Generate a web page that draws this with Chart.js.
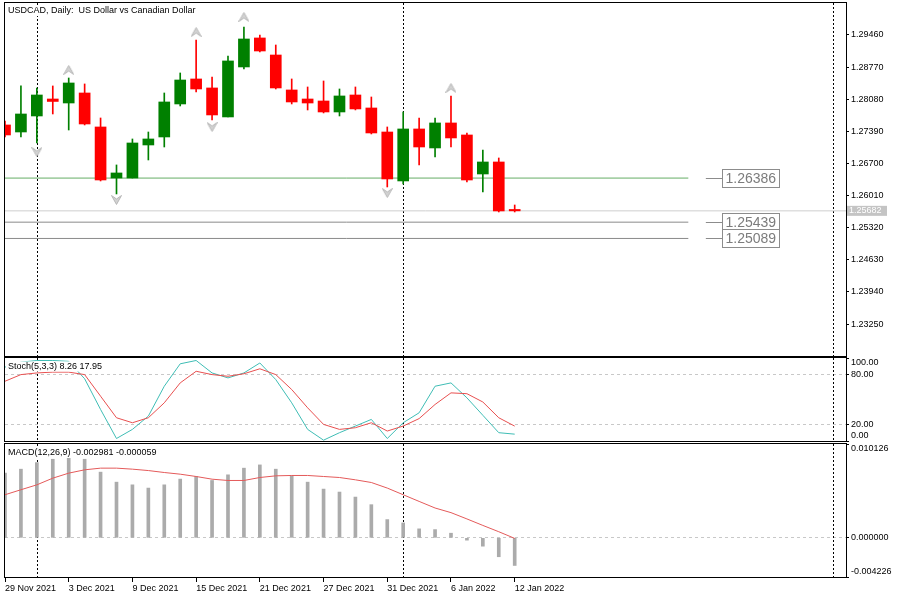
<!DOCTYPE html>
<html lang="en">
<head>
<meta charset="UTF-8">
<title>USDCAD, Daily</title>
<script src="https://cdn.jsdelivr.net/npm/chart.js"></script>
<style>
    html, body { margin: 0; padding: 0; background: #fff; }
    body { width: 902px; height: 603px; position: relative; overflow: hidden; }
    canvas { position: absolute; left: 0; }
    #priceChart { top: 0; }
    #stochChart { top: 356px; }
    #macdChart { top: 441px; }
</style>
</head>
<body>
<canvas id="priceChart" width="902" height="358"></canvas>
<canvas id="stochChart" width="902" height="87"></canvas>
<canvas id="macdChart" width="902" height="162"></canvas>

<script>
// ---- data ----
const dates = ['29 Nov 2021', '30 Nov 2021', '1 Dec 2021', '2 Dec 2021', '3 Dec 2021', '6 Dec 2021', '7 Dec 2021',
    '8 Dec 2021', '9 Dec 2021', '10 Dec 2021', '13 Dec 2021', '14 Dec 2021', '15 Dec 2021', '16 Dec 2021',
    '17 Dec 2021', '20 Dec 2021', '21 Dec 2021', '22 Dec 2021', '23 Dec 2021', '24 Dec 2021', '27 Dec 2021',
    '28 Dec 2021', '29 Dec 2021', '30 Dec 2021', '31 Dec 2021', '3 Jan 2022', '4 Jan 2022', '5 Jan 2022',
    '6 Jan 2022', '7 Jan 2022', '10 Jan 2022', '11 Jan 2022', '12 Jan 2022'];

const open  = [1.27527, 1.27376, 1.27720, 1.28085, 1.27999, 1.28214, 1.27484, 1.26388, 1.26388, 1.27097, 1.27269,
    1.27978, 1.28515, 1.28322, 1.27699, 1.28773, 1.29396, 1.29030, 1.28279, 1.28085, 1.28042, 1.27806, 1.28171,
    1.27892, 1.27376, 1.26324, 1.27441, 1.27033, 1.27570, 1.27312, 1.26474, 1.26732, 1.25712];
const high  = [1.27613, 1.28365, 1.28322, 1.28365, 1.28536, 1.28408, 1.27677, 1.26668, 1.27226, 1.27376, 1.28214,
    1.28644, 1.29353, 1.28558, 1.29009, 1.29632, 1.29460, 1.29245, 1.28515, 1.28343, 1.28472, 1.28300, 1.28343,
    1.28128, 1.27484, 1.27806, 1.27677, 1.27677, 1.28150, 1.27355, 1.26990, 1.26818, 1.25808];
const low   = [1.27269, 1.27269, 1.27140, 1.27763, 1.27419, 1.27527, 1.26324, 1.26045, 1.26388, 1.26775, 1.27054,
    1.27935, 1.28236, 1.27634, 1.27699, 1.28730, 1.29095, 1.28300, 1.27978, 1.27849, 1.27785, 1.27720, 1.27850,
    1.27334, 1.26195, 1.26260, 1.26668, 1.26839, 1.27054, 1.26302, 1.26088, 1.25658, 1.25658];
const close = [1.27312, 1.27763, 1.28171, 1.28032, 1.28429, 1.27548, 1.26345, 1.26496, 1.27140, 1.27226, 1.28021,
    1.28493, 1.28300, 1.27742, 1.28902, 1.29374, 1.29116, 1.28322, 1.28021, 1.27999, 1.27806, 1.28150, 1.27871,
    1.27355, 1.26367, 1.27441, 1.27054, 1.27570, 1.27248, 1.26345, 1.26732, 1.25680, 1.25682];

// fractal arrows (price where the arrow sits)
const fractalUp   = [null, null, null, null, 1.28708, null, null, null, null, null, null, null, 1.29524, null, null,
    1.29847, null, null, null, null, null, null, null, null, null, null, null, null, 1.28322, null, null, null, null];
const fractalDown = [null, null, 1.26947, null, null, null, null, 1.25916, null, null, null, null, null, 1.27484,
    null, null, null, null, null, null, null, null, null, null, 1.26066, null, null, null, null, null, null, null, null];

const priceTicks = [1.29460, 1.28770, 1.28080, 1.27390, 1.26700, 1.26010, 1.25320, 1.24630, 1.23940, 1.23250];
const levelPrices = [1.26386, 1.25439, 1.25089];
const lastPrice = 1.25682;

const stochK = [89, 95, 97, 97, 96, 75, 38, 3, 14, 30, 66, 93, 97, 82, 76, 82, 94, 74, 46, 14, 1, 10, 18, 26, 3,
    22, 34, 66, 70, 52, 31, 10, 8.26];
const stochD = [72, 80, 82, 83, 83, 80, 54, 28, 22, 28, 46, 70, 84, 80, 78, 81, 87, 80, 62, 40, 20, 14, 16, 22, 12,
    18, 27, 44, 58, 57, 47, 28, 17.95];
const stochTicks = [0, 20, 80, 100];

const macdMain = [0.00698, 0.00741, 0.00812, 0.00848, 0.00859, 0.00848, 0.00709, 0.00601, 0.00572, 0.00537, 0.00572,
    0.00634, 0.00662, 0.00619, 0.00680, 0.00752, 0.00787, 0.00741, 0.00669, 0.00601, 0.00526, 0.00494, 0.00440,
    0.00358, 0.00197, 0.00161, 0.00097, 0.00089, 0.00050, -0.00025, -0.00090, -0.00204, -0.002981];
const macdSignal = [0.00465, 0.00519, 0.00572, 0.00644, 0.00698, 0.00734, 0.00752, 0.00752, 0.00741, 0.00726, 0.00705,
    0.00687, 0.00662, 0.00633, 0.00619, 0.00619, 0.00651, 0.00669, 0.00673, 0.00673, 0.00662, 0.00651, 0.00626,
    0.00597, 0.00537, 0.00465, 0.00393, 0.00322, 0.00272, 0.00204, 0.00134, 0.00066, -0.000059];
const macdTicks = [-0.004226, 0, 0.010126];

const xTickIdx = [0, 4, 8, 12, 16, 20, 24, 28, 32];
const separators = [2, 25, 52];

// ---- layout (bar index units on the x axis) ----
const X_MIN = 0, X_MAX = 52.8;
const LINE_END = 42.9, STUB_FROM = 44, BOX_AT = 45;
const FONT = '"Liberation Sans", Arial, sans-serif';

Chart.defaults.font.family = FONT;
Chart.defaults.font.size = 9;
Chart.defaults.color = '#000';
Chart.defaults.animation = false;
Chart.defaults.plugins.legend.display = false;
Chart.defaults.plugins.tooltip.enabled = false;

const idx = close.map((_, i) => i);
const candleColor = idx.map(i => close[i] >= open[i] ? '#008000' : '#ff0000');

function arrowImage(up) {
    const cv = document.createElement('canvas');
    cv.width = 11; cv.height = 10;
    const c = cv.getContext('2d');
    c.beginPath();
    if (up) { c.moveTo(5.5, 0.5); c.lineTo(10.5, 9.5); c.lineTo(5.5, 6); c.lineTo(0.5, 9.5); }
    else { c.moveTo(5.5, 9.5); c.lineTo(10.5, 0.5); c.lineTo(5.5, 4); c.lineTo(0.5, 0.5); }
    c.closePath();
    c.fillStyle = '#d2d2d2';
    c.fill();
    c.strokeStyle = '#b8b8b8';
    c.lineWidth = 1;
    c.stroke();
    return cv;
}

function fixAxisWidth(scale) {
    scale.width = 56;
    scale.paddingTop = 0; scale.paddingBottom = 0;
}

function xHidden() {
    return { type: 'linear', min: X_MIN, max: X_MAX, offset: false, display: false, grid: { offset: false } };
}

// ---- plugins ----
const frame = {
    id: 'frame',
    afterDraw(chart) {
        const a = chart.chartArea, c = chart.ctx;
        c.save();
        c.strokeStyle = '#000';
        c.lineWidth = 1;
        c.strokeRect(Math.round(a.left) - 0.5, Math.round(a.top) - 0.5,
            Math.round(a.right - a.left) + 1, Math.round(a.bottom - a.top) + 1);
        c.restore();
    }
};

const separatorLines = {
    id: 'separatorLines',
    beforeDatasetsDraw(chart) {
        const x = chart.scales.x, a = chart.chartArea, c = chart.ctx;
        c.save();
        c.strokeStyle = '#000';
        c.lineWidth = 1;
        c.setLineDash([2, 2]);
        separators.forEach(s => {
            const px = Math.round(x.getPixelForValue(s)) + 0.5;
            c.beginPath();
            c.moveTo(px, a.top);
            c.lineTo(px, a.bottom);
            c.stroke();
        });
        c.restore();
    }
};

function panelTitle(text, dy) {
    return {
        id: 'panelTitle',
        afterDatasetsDraw(chart) {
            const a = chart.chartArea, c = chart.ctx;
            c.save();
            c.font = '9px ' + FONT;
            const w = c.measureText(text).width;
            c.fillStyle = '#fff';
            c.fillRect(a.left + 1, a.top + dy - 5, w + 4, 10);
            c.fillStyle = '#000';
            c.textBaseline = 'middle';
            c.fillText(text, a.left + 3, a.top + dy);
            c.restore();
        }
    };
}

// axis labels kept inside the panel like the terminal does
function edgeLabels(digits) {
    return {
        id: 'edgeLabels',
        afterDraw(chart) {
            const y = chart.scales.y, a = chart.chartArea, c = chart.ctx;
            c.save();
            c.font = '9px ' + FONT;
            c.fillStyle = '#000';
            c.textBaseline = 'middle';
            y.ticks.forEach(t => {
                let py = y.getPixelForValue(t.value);
                py = Math.min(Math.max(py, a.top + 5), a.bottom - 5);
                c.fillText(t.value.toFixed(digits), a.right + 5, py);
            });
            c.restore();
        }
    };
}

const levelLabels = {
    id: 'levelLabels',
    afterDatasetsDraw(chart) {
        const x = chart.scales.x, y = chart.scales.y, a = chart.chartArea, c = chart.ctx;
        c.save();
        c.lineWidth = 1;
        c.font = '14px ' + FONT;
        c.textBaseline = 'middle';
        levelPrices.forEach(p => {
            const py = Math.round(y.getPixelForValue(p)) + 0.5;
            const x0 = x.getPixelForValue(STUB_FROM), x1 = Math.round(x.getPixelForValue(BOX_AT)) + 0.5;
            c.strokeStyle = '#8c8c8c';
            c.beginPath(); c.moveTo(x0, py); c.lineTo(x1, py); c.stroke();
            const txt = p.toFixed(5);
            const w = Math.round(c.measureText(txt).width) + 6;
            c.fillStyle = '#fff';
            c.fillRect(x1, py - 9, w, 18);
            c.strokeRect(x1, py - 9, w, 18);
            c.fillStyle = '#7c7c7c';
            c.fillText(txt, x1 + 3, py + 1);
        });
        // current price tag on the axis
        const py = y.getPixelForValue(lastPrice);
        c.fillStyle = '#c4c4c4';
        c.fillRect(a.right + 1, py - 5, 40, 10);
        c.fillStyle = '#fff';
        c.font = '9px ' + FONT;
        c.fillText(lastPrice.toFixed(5), a.right + 3, py);
        c.restore();
    }
};

// ---- price chart ----
function levelLine(p, color, end) {
    return {
        type: 'line', data: [{ x: X_MIN, y: p }, { x: end, y: p }],
        borderColor: color, borderWidth: 1, pointRadius: 0, tension: 0
    };
}

new Chart(document.getElementById('priceChart'), {
    type: 'bar',
    data: {
        datasets: [
            {
                data: idx.map(i => ({ x: i, y: [open[i], close[i]] })),
                backgroundColor: candleColor, barThickness: 11, minBarLength: 1, grouped: false
            },
            {
                data: idx.map(i => ({ x: i, y: [low[i], high[i]] })),
                backgroundColor: candleColor, barThickness: 1, grouped: false
            },
            {
                type: 'line', data: fractalUp.map((v, i) => ({ x: i, y: v })),
                showLine: false, pointStyle: arrowImage(true), pointRadius: 5
            },
            {
                type: 'line', data: fractalDown.map((v, i) => ({ x: i, y: v })),
                showLine: false, pointStyle: arrowImage(false), pointRadius: 5
            },
            levelLine(levelPrices[0], '#66ad66', LINE_END),
            levelLine(levelPrices[1], '#8a8a8a', LINE_END),
            levelLine(levelPrices[2], '#8a8a8a', LINE_END),
            levelLine(lastPrice, '#cfcfcf', X_MAX)
        ]
    },
    options: {
        responsive: false,
        devicePixelRatio: 1,
        layout: { padding: { left: 5, top: 3, right: 0, bottom: 2 }, autoPadding: false },
        scales: {
            x: xHidden(),
            y: {
                position: 'right',
                min: 1.22564, max: 1.30147,
                beginAtZero: false,
                afterBuildTicks: s => { s.ticks = priceTicks.map(v => ({ value: v })); },
                afterFit: fixAxisWidth,
                ticks: { callback: v => v.toFixed(5), padding: 2, font: { size: 9 } },
                grid: { drawOnChartArea: false, drawTicks: true, tickLength: 3, tickColor: '#000' },
                border: { display: false }
            }
        }
    },
    plugins: [separatorLines, levelLabels, panelTitle('USDCAD, Daily:  US Dollar vs Canadian Dollar', 8), frame]
});

// ---- stochastic ----
new Chart(document.getElementById('stochChart'), {
    type: 'line',
    data: {
        datasets: [
            {
                data: stochD.map((v, i) => ({ x: i, y: v })),
                borderColor: '#e85050', borderWidth: 1, pointRadius: 0, tension: 0
            },
            {
                data: stochK.map((v, i) => ({ x: i, y: v })),
                borderColor: '#3fbdb5', borderWidth: 1, pointRadius: 0, tension: 0
            }
        ]
    },
    options: {
        responsive: false,
        devicePixelRatio: 1,
        layout: { padding: { left: 5, top: 2, right: 0, bottom: 2 }, autoPadding: false },
        scales: {
            x: xHidden(),
            y: {
                position: 'right', min: 0, max: 100,
                afterBuildTicks: s => { s.ticks = stochTicks.map(v => ({ value: v })); },
                afterFit: fixAxisWidth,
                ticks: { display: false },
                grid: {
                    color: ctx => (ctx.tick && (ctx.tick.value === 20 || ctx.tick.value === 80)) ? '#c8c8c8' : 'rgba(0,0,0,0)',
                    tickColor: '#000', tickLength: 3
                },
                border: { display: false, dash: [3, 3] }
            }
        }
    },
    plugins: [separatorLines,
        panelTitle('Stoch(5,3,3) ' + stochK[stochK.length - 1].toFixed(2) + ' ' + stochD[stochD.length - 1].toFixed(2), 8.5),
        edgeLabels(2), frame]
});

// ---- MACD ----
new Chart(document.getElementById('macdChart'), {
    type: 'bar',
    data: {
        datasets: [
            {
                type: 'line', data: macdSignal.map((v, i) => ({ x: i, y: v })),
                borderColor: '#e45a5a', borderWidth: 1, pointRadius: 0, tension: 0
            },
            {
                data: macdMain.map((v, i) => ({ x: i, y: v })),
                backgroundColor: '#ababab', barThickness: 3, grouped: false
            }
        ]
    },
    options: {
        responsive: false,
        devicePixelRatio: 1,
        layout: { padding: { left: 5, top: 3, right: 0, bottom: 0 }, autoPadding: false },
        scales: {
            x: {
                type: 'linear', min: X_MIN, max: X_MAX, offset: false,
                afterBuildTicks: s => { s.ticks = xTickIdx.map(v => ({ value: v })); },
                afterFit: s => { s.height = 26; s.paddingLeft = 0; s.paddingRight = 0; },
                ticks: {
                    callback: v => dates[v], align: 'start', autoSkip: false, maxRotation: 0,
                    padding: 1, font: { size: 9 }
                },
                grid: { offset: false, drawOnChartArea: false, drawTicks: true, tickLength: 5, tickColor: '#000' },
                border: { display: false }
            },
            y: {
                position: 'right', min: -0.004226, max: 0.010126, beginAtZero: false,
                afterBuildTicks: s => { s.ticks = macdTicks.map(v => ({ value: v })); },
                afterFit: fixAxisWidth,
                ticks: { display: false },
                grid: {
                    color: ctx => (ctx.tick && ctx.tick.value === 0) ? '#c8c8c8' : 'rgba(0,0,0,0)',
                    tickColor: '#000', tickLength: 3
                },
                border: { display: false, dash: [3, 3] }
            }
        }
    },
    plugins: [separatorLines,
        panelTitle('MACD(12,26,9) ' + macdMain[macdMain.length - 1].toFixed(6) + ' ' + macdSignal[macdSignal.length - 1].toFixed(6), 9),
        edgeLabels(6), frame]
});
</script>
</body>
</html>
